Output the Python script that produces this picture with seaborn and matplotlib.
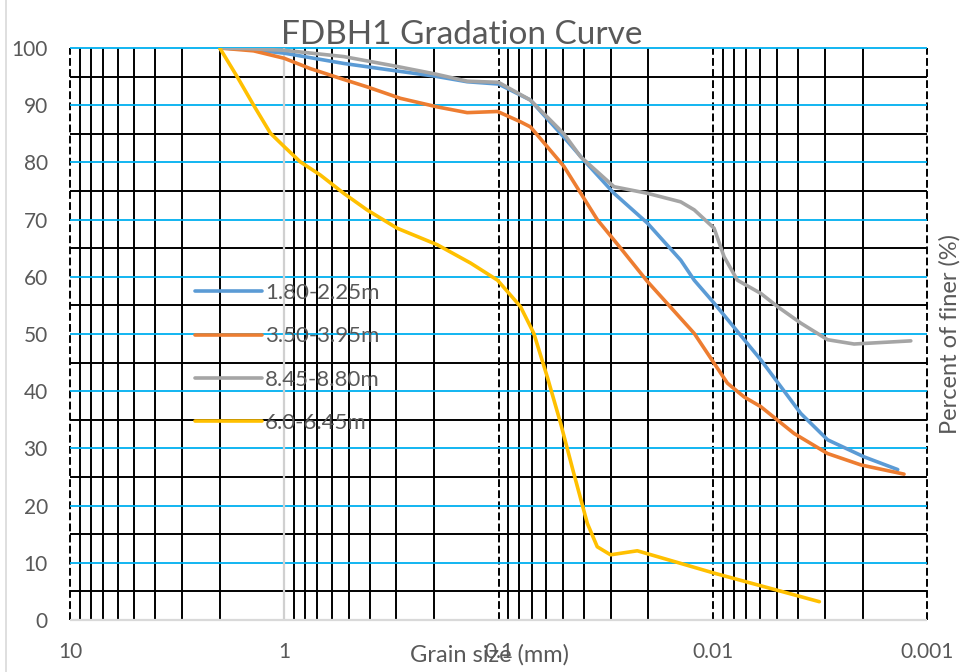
import matplotlib
matplotlib.use("Agg")
import matplotlib.pyplot as plt
import matplotlib.ticker as mticker
import pandas as pd
import seaborn as sns

# Sample depths shown in the legend
labels = ["1.80-2.25m", "3.50-3.95m", "8.45-8.80m", "6.0-6.45m"]
colors = ["#5B9BD5", "#ED7D31", "#A5A5A5", "#FFC000"]

# Grain size (mm) and percent finer for each sample
size_a = [2.0, 1.5, 1.0, 0.528, 0.3, 0.2, 0.14, 0.10, 0.071, 0.0495, 0.040, 0.0289,
          0.0202, 0.0141, 0.0122, 0.00986, 0.00597, 0.00388, 0.00291, 0.00196, 0.00137]
finer_a = [100, 99.8, 99.1, 97.3, 96.0, 95.1, 94.1, 93.7, 90.9, 84.4, 80.4, 74.6,
           69.4, 62.9, 59.4, 55.4, 45.5, 36.1, 31.5, 28.5, 26.3]

size_b = [2.0, 1.39, 1.0, 0.756, 0.528, 0.41, 0.287, 0.193, 0.14, 0.101, 0.079, 0.0709,
          0.0495, 0.0346, 0.0269, 0.0202, 0.0122, 0.00986, 0.00854, 0.00714, 0.00597,
          0.00417, 0.00291, 0.00203, 0.00128]
finer_b = [100, 99.5, 98.2, 96.4, 94.5, 93.2, 91.2, 89.7, 88.7, 88.9, 87.1, 86.2,
           79.3, 70.0, 65.0, 59.2, 50.1, 44.9, 41.4, 39.0, 37.3,
           32.6, 29.1, 27.1, 25.5]

size_c = [2.0, 1.5, 1.0, 0.528, 0.3, 0.2, 0.14, 0.10, 0.071, 0.0495, 0.0414, 0.0289,
          0.0202, 0.0141, 0.0122, 0.00986, 0.00885, 0.00767, 0.00597, 0.00499,
          0.00388, 0.00291, 0.00219, 0.00119]
finer_c = [100, 99.9, 99.6, 98.5, 96.8, 95.5, 94.2, 94.0, 90.9, 85.0, 81.0, 75.75,
           74.6, 73.1, 71.7, 68.5, 63.5, 59.4, 57.1, 54.8,
           51.9, 49.0, 48.25, 48.8]

size_d = [2.0, 1.66, 1.39, 1.16, 1.0, 0.842, 0.679, 0.528, 0.411, 0.2975, 0.193,
          0.135, 0.101, 0.079, 0.0684, 0.0592, 0.0513, 0.0445, 0.0385, 0.0346, 0.030,
          0.0225, 0.00986, 0.00318]
finer_d = [100, 95.0, 90.0, 85.1, 82.75, 80.1, 77.8, 74.6, 71.7, 68.5, 65.6,
           62.4, 59.4, 54.8, 50.1, 42.5, 34.4, 25.6, 16.9, 12.8, 11.4,
           12.1, 8.2, 3.2]

x_major = [10, 1, 0.1, 0.01, 0.001]
x_major_labels = ["10", "1", "0.1", "0.01", "0.001"]
y_major = list(range(0, 101, 10))

frames = []
for lab, s, f in zip(labels, [size_a, size_b, size_c, size_d],
                     [finer_a, finer_b, finer_c, finer_d]):
    frames.append(pd.DataFrame({"size": s, "finer": f, "sample": lab}))
df = pd.concat(frames, ignore_index=True)

sns.set_style("white")
plt.rcParams["font.family"] = ["Lato", "DejaVu Sans"]
text_color = "#595959"

fig = plt.figure(figsize=(9.74, 6.72), dpi=100)
ax = fig.add_axes([70 / 974, 52 / 672, 857 / 974, 572 / 672])

ax.set_xscale("log")
ax.set_xlim(10, 0.001)
ax.set_ylim(0, 100)

ax.xaxis.set_major_locator(mticker.FixedLocator(x_major))
ax.xaxis.set_major_formatter(mticker.FixedFormatter(x_major_labels))
ax.xaxis.set_minor_locator(mticker.NullLocator())
ax.yaxis.set_major_locator(mticker.FixedLocator(y_major))
ax.yaxis.set_minor_locator(mticker.NullLocator())

# Grid: decades dashed, sub-decades solid black; tens blue, fives black
x_minor = [m * 10.0 ** e for e in range(-3, 1) for m in range(2, 10)]
y_minor = list(range(5, 100, 10))
ax.vlines(x_minor, 0, 100, colors="black", lw=1.4, zorder=1, clip_on=False)
for xv in x_major:
    if xv == 1:
        # vertical axis crosses at 1 mm
        ax.vlines(xv, 0, 100, colors="#D0D0D0", lw=1.6, zorder=1.2, clip_on=False)
    else:
        ax.vlines(xv, 0, 100, colors="black", lw=1.4, linestyles=(0, (4, 1.7)),
                  zorder=1, clip_on=False)
ax.hlines(y_minor, 10, 0.001, colors="black", lw=1.4, zorder=1.1, clip_on=False)
ax.hlines([v for v in y_major if v > 0], 10, 0.001, colors="#00B0F0", lw=1.3,
          zorder=1.1, clip_on=False)
ax.hlines(0, 10, 0.001, colors="#D9D9D9", lw=1.6, zorder=1.3, clip_on=False)

for sp in ax.spines.values():
    sp.set_visible(False)

sns.lineplot(data=df, x="size", y="finer", hue="sample", hue_order=labels,
             palette=colors, sort=False, estimator=None, units="sample",
             lw=2.6, ax=ax, legend=False, solid_capstyle="round",
             solid_joinstyle="round", zorder=3)

ax.tick_params(axis="both", which="both", length=0, labelsize=15,
               labelcolor=text_color)
ax.tick_params(axis="x", pad=16)
ax.tick_params(axis="y", pad=16)

ax.set_title("FDBH1 Gradation Curve", fontsize=24, color=text_color, pad=3,
             x=0.457)
ax.set_xlabel("Grain size (mm)", fontsize=17, color=text_color)
ax.xaxis.set_label_coords(0.49, -0.042)
ax.set_ylabel("Percent of finer (%)", fontsize=17, color=text_color)
ax.yaxis.set_label_position("right")
ax.yaxis.labelpad = 9

handles = [plt.Line2D([], [], color=c, lw=2.6, solid_capstyle="round") for c in colors]
leg = ax.legend(handles, labels, loc="center left", bbox_to_anchor=(0.146, 0.458),
                frameon=False, fontsize=16, handlelength=3.0, handletextpad=0.15,
                labelspacing=1.05, borderpad=0, borderaxespad=0)
for t in leg.get_texts():
    t.set_color(text_color)

# Chart area border on the left edge
fig.add_artist(plt.Line2D([5.5 / 974, 5.5 / 974], [0, 1], color="#D9D9D9", lw=1.2))

fig.savefig("out.png", dpi=100)
